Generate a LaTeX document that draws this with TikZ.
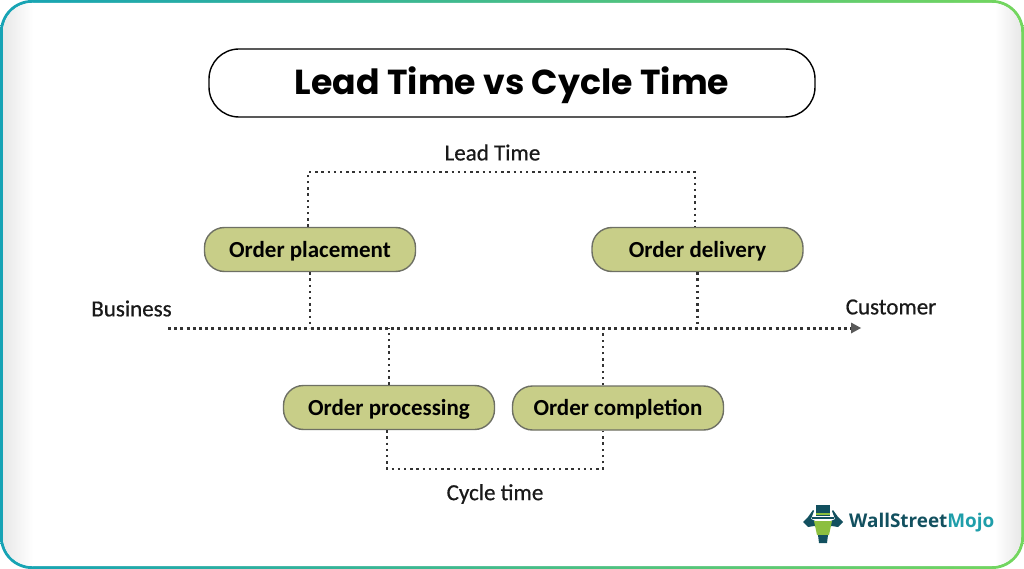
\documentclass[tikz,border=0pt]{standalone}
\usepackage{fontspec}
\setmainfont{Carlito}
\newfontfamily\titlefont{Poppins}
\newfontfamily\lblfont[FakeBold=0.6]{Carlito}
\newfontfamily\logofont{Open Sans}
\usetikzlibrary{shapes,calc,arrows.meta}
\definecolor{stepfill}{HTML}{C8CE88}
\definecolor{stepline}{HTML}{6E7064}
\definecolor{framel}{HTML}{16A3B5}
\definecolor{framer}{HTML}{74D65E}
\definecolor{logodark}{HTML}{12505F}
\definecolor{logoteal}{HTML}{1F9EAA}
\definecolor{logogreen}{HTML}{8CBF3F}
\tikzset{
  orderbox/.style={draw=stepline, line width=1.4pt, fill=stepfill, rounded corners=20pt,
    minimum width=211pt, minimum height=44pt, inner sep=0pt, text height=15.8pt, text depth=0pt,
    font=\fontsize{23}{23}\selectfont\bfseries},
  dots/.style={line width=2.4pt, draw=black!80, dash pattern=on 2.4pt off 3.8pt},
  axis/.style={line width=3pt, draw=black!80, dash pattern=on 3pt off 3.2pt},
  lbl/.style={inner sep=0pt, font=\lblfont\fontsize{23}{23}\selectfont, text=black!90},
}
\begin{document}
\begin{tikzpicture}[x=1pt,y=-1pt]
\useasboundingbox (0,0) rectangle (1024,569);
\fill[white] (0,0) rectangle (1024,569);
% frame
\shade[left color=framel, right color=framer, rounded corners=32pt] (0,0) rectangle (1024,569);
\begin{scope}
\clip[rounded corners=29pt] (3,3) rectangle (1021,566);
\fill[white] (0,0) rectangle (1024,569);
\shade[left color=black!9, right color=white] (3,0) rectangle (33,569);
\shade[left color=white, right color=black!9] (995,0) rectangle (1021,569);
\end{scope}
% title
\node[draw=black, line width=1.4pt, fill=white, rounded corners=30pt, minimum width=606pt,
  minimum height=68pt, inner sep=0pt, text height=24pt, text depth=0pt,
  font=\titlefont\fontsize{34.7}{35}\selectfont\bfseries]
  (title) at (512,83) {Lead Time vs Cycle Time};
% boxes
\node[orderbox] (place) at (310,249.5) {Order placement};
\node[orderbox] (deliv) at (697.5,249.5) {Order delivery};
\node[orderbox] (proc) at (389,407.5) {Order processing};
\node[orderbox] (compl) at (618,408) {Order completion};
% labels
\node[lbl] (leadlbl) at (492.5,152.5) {Lead Time};
\node[lbl] (cyclelbl) at (495,494) {Cycle time};
\node[lbl] (busi) at (131.5,308.5) {Business};
\node[lbl] (cust) at (891,307) {Customer};
% axis
\coordinate (axl) at (168,328);
\coordinate (axr) at (851,328);
\coordinate (tip) at (861,328);
\draw[axis] (axl) -- (axr);
\fill[black!65] (tip) -- (851,322.5) -- (851,333.5) -- cycle;
% lead time
\coordinate (ll) at (308,172);
\coordinate (lr) at (695,172);
\draw[dots] (place.north -| ll) -- (ll) -- (lr) -- (deliv.north -| lr);
\draw[dots] (place.south) -- (place.south |- axl);
\draw[dots] (deliv.south) -- (deliv.south |- axl);
% cycle time
\coordinate (cl) at (387,469);
\coordinate (cr) at (603,469);
\draw[dots] (proc.south -| cl) -- (cl) -- (cr) -- (compl.south -| cr);
\draw[dots] (proc.north) -- (proc.north |- axl);
\draw[dots] (compl.north -| cr) -- (cr |- axl);
% logo
\fill[logodark] (816,505) rectangle (830,516);
\fill[logogreen] (816,513) rectangle (830,515);
\fill[logodark] (812,516.5) rectangle (834,519);
\fill[logodark] (803,522) -- (808,517) -- (813,510) -- (814,511) -- (811,519) -- (815,521)
  -- (831,521) -- (835,519) -- (832,511) -- (833,510) -- (838,517) -- (843,522)
  -- (838,527) -- (832,526) -- (814,526) -- (808,527) -- cycle;
\fill[logogreen] (814,521) -- (832,521) -- (829,535) -- (817,535) -- cycle;
\fill[logodark] (818,535) -- (828,535) -- (827,543) -- (819,543) -- cycle;
\node[inner sep=0pt, anchor=west, font=\logofont\fontsize{18.9}{20}\selectfont\bfseries] (wsm) at (849,523)
  {\textcolor{logodark}{WallStreet}\textcolor{logoteal}{Mojo}};
\end{tikzpicture}
\end{document}
